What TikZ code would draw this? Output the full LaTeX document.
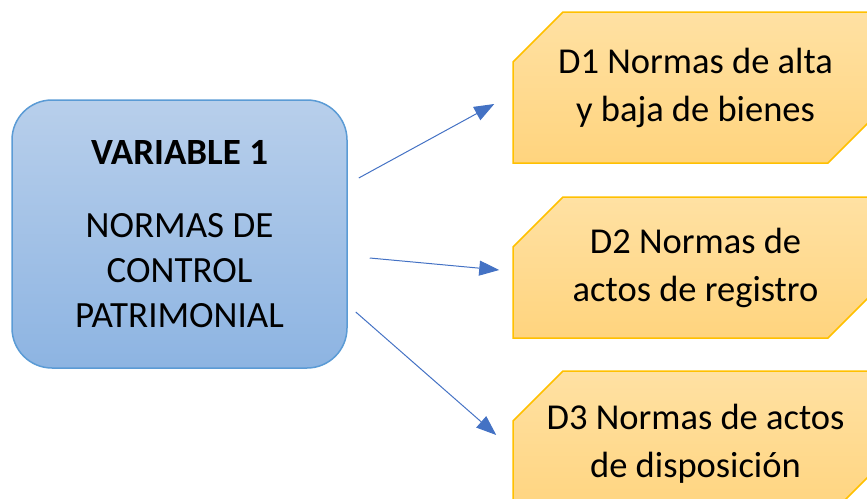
\documentclass[tikz,border=0pt]{standalone}
\usepackage{fontspec}
\setmainfont{Carlito}
\usepackage{xcolor}
\definecolor{VarTop}{HTML}{B8CFEB}
\definecolor{VarBottom}{HTML}{8DB4E2}
\definecolor{VarBorder}{HTML}{5B9BD5}
\definecolor{DimTop}{HTML}{FFE1A3}
\definecolor{DimBottom}{HTML}{FFD47E}
\definecolor{DimBorder}{HTML}{FFC000}
\definecolor{ArrowBlue}{HTML}{4472C4}
\usetikzlibrary{shapes.misc, arrows.meta, positioning}
\tikzset{
  varbox/.style={rectangle, rounded corners=40pt, draw=VarBorder, line width=1.5pt, top color=VarTop, bottom color=VarBottom, minimum width=335pt, minimum height=268pt, font=\fontsize{37}{45}\selectfont, align=center},
  dimbox/.style={chamfered rectangle, chamfered rectangle corners={north west,south east}, chamfered rectangle xsep=25pt, chamfered rectangle ysep=25pt, draw=DimBorder, line width=1.5pt, top color=DimTop, bottom color=DimBottom, minimum width=365pt, font=\fontsize{36.5}{48}\selectfont, align=center},
  arrow/.style={-{Triangle[length=20pt,width=15pt]}, line width=1pt, ArrowBlue}
}
\begin{document}
\begin{tikzpicture}[x=1pt, y=-1pt]
  \useasboundingbox (0,0) rectangle (867,498);
  \clip (0,0) rectangle (867,498);
  \node[varbox] (var) at (179.5,234) {\textbf{VARIABLE 1}\\[28pt]NORMAS DE\\CONTROL\\PATRIMONIAL};
  \node[dimbox, minimum height=151pt] (d1) at (695.5,87.5) {D1 Normas de alta\\y baja de bienes};
  \node[dimbox, minimum height=141pt] (d2) at (695.5,267.5) {D2 Normas de\\actos de registro};
  \node[dimbox, minimum height=146pt] (d3) at (695.5,444) {D3 Normas de actos\\de disposición};

  \draw[arrow] ([shift={(11,-56)}]var.east) -- ([shift={(-18,16.5)}]d1.west);
  \draw[arrow] ([shift={(22,24)}]var.east) -- ([shift={(-13,2.5)}]d2.west);
  \draw[arrow] ([shift={(8,78)}]var.east) -- ([shift={(-16,-9)}]d3.west);
\end{tikzpicture}
\end{document}
